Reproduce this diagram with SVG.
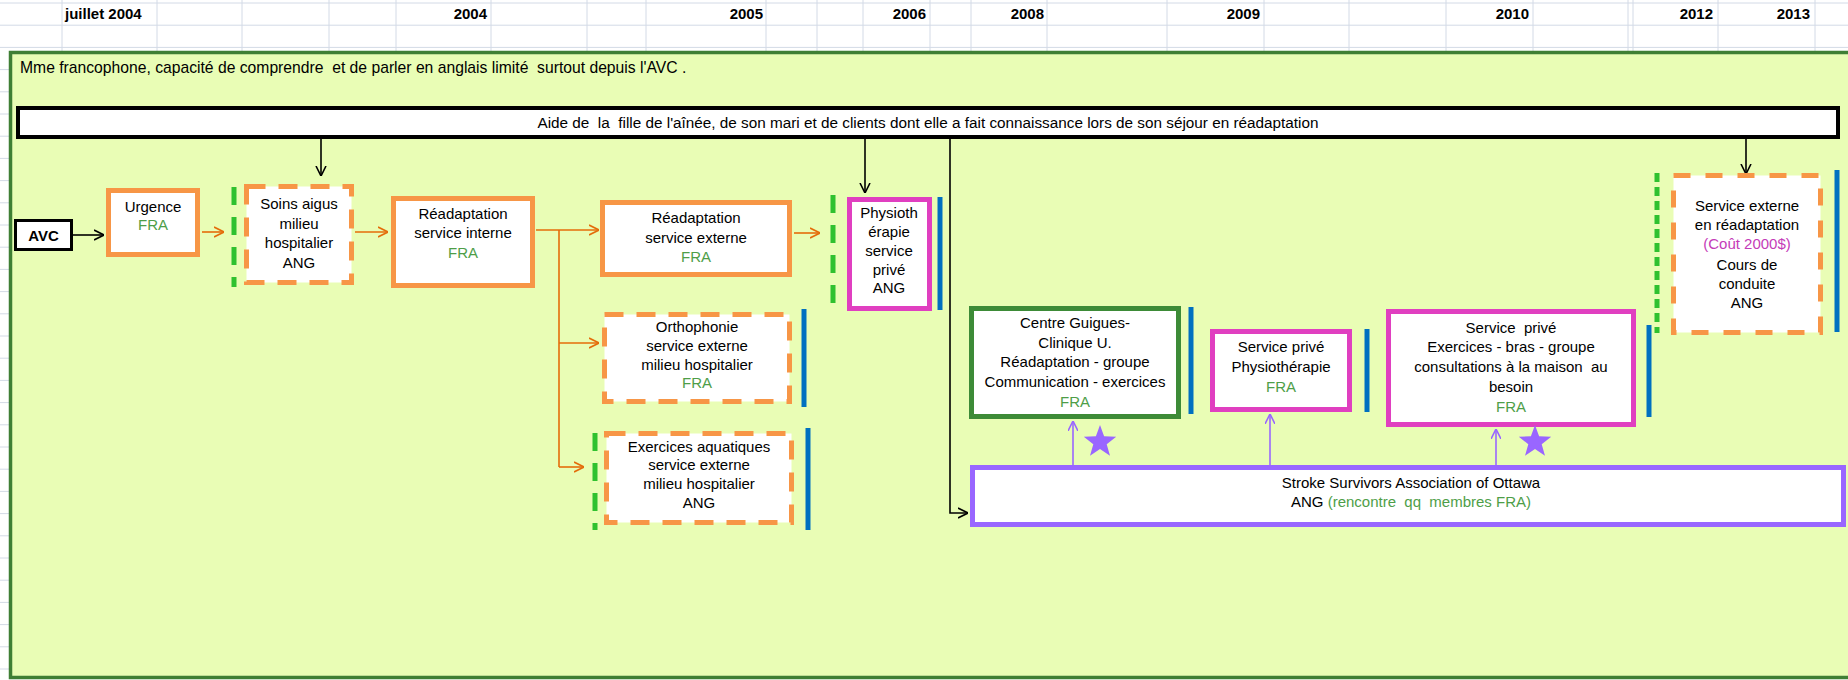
<svg xmlns="http://www.w3.org/2000/svg" width="1848" height="680" viewBox="0 0 1848 680">
<style>
.grid{stroke:#d3dae6;stroke-width:1;fill:none}
.hdr{font-family:'Liberation Sans',Arial,sans-serif;font-size:15px;font-weight:bold;fill:#000}
.t{font-family:'Liberation Sans',Arial,sans-serif;font-size:15px;fill:#000;text-anchor:middle;white-space:pre}
.tl{font-family:'Liberation Sans',Arial,sans-serif;font-size:15.7px;fill:#000;white-space:pre}
.big{font-size:15.3px}
.fra{fill:#4e9e48}
.cost{fill:#c43cb8}
.box{fill:#fff}
.or{stroke:#f79646;stroke-width:5}
.ord{stroke:#f79646;stroke-width:5;stroke-dasharray:19 13}
.mg{stroke:#e03fc0;stroke-width:5}
.gr{stroke:#3d8b37;stroke-width:5}
.pu{stroke:#9966ff;stroke-width:5}
.blk{stroke:#000;stroke-width:4}
.blue{stroke:#0070c0;stroke-width:5}
.gdash{stroke:#2fc12f;stroke-width:5;stroke-dasharray:18 12}
.ca{fill:none;stroke:#000;stroke-width:1.6}
.co{fill:none;stroke:#e46c0a;stroke-width:1.6}
.cp{fill:none;stroke:#9966ff;stroke-width:1.6}
</style>
<defs>
<marker id="ab" viewBox="0 0 10 10" refX="10" refY="5" markerWidth="10" markerHeight="12" markerUnits="userSpaceOnUse" orient="auto"><path d="M0,0 L10,5 L0,10" fill="none" stroke="#000" stroke-width="1.6"/></marker>
<marker id="ao" viewBox="0 0 10 10" refX="10" refY="5" markerWidth="10" markerHeight="12" markerUnits="userSpaceOnUse" orient="auto"><path d="M0,0 L10,5 L0,10" fill="none" stroke="#e46c0a" stroke-width="1.6"/></marker>
<marker id="ap" viewBox="0 0 10 10" refX="10" refY="5" markerWidth="10" markerHeight="10" markerUnits="userSpaceOnUse" orient="auto"><path d="M0,0 L10,5 L0,10" fill="none" stroke="#9966ff" stroke-width="1.6"/></marker>
<path id="star" d="M0,-17 L4.1,-5.7 L16.2,-5.3 L6.7,2.2 L10,13.8 L0,7 L-10,13.8 L-6.7,2.2 L-16.2,-5.3 L-4.1,-5.7 Z" fill="#9966ff"/>
</defs>

<rect x="0" y="0" width="1848" height="680" fill="#fff"/>
<g id="grid">
<path class="grid" d="M0,3H1848M0,25.2H1848M0,47.4H1848M0,69.6H10M0,91.8H10M0,114H10M0,136.2H10M0,158.4H10M0,180.6H10M0,202.8H10M0,225H10M0,247.2H10M0,269.4H10M0,291.6H10M0,313.8H10M0,336H10M0,358.2H10M0,380.4H10M0,402.6H10M0,424.8H10M0,447H10M0,469.2H10M0,491.4H10M0,513.6H10M0,535.8H10M0,558H10M0,580.2H10M0,602.4H10M0,624.6H10M0,646.8H10M0,669H10"/>
<path class="grid" d="M62,0V52M157,0V52M242,0V52M329,0V52M396,0V52M491,0V52M587,0V52M646,0V52M766,0V52M817,0V52M863,0V52M930,0V52M971,0V52M1047,0V52M1167,0V52M1264,0V52M1349,0V52M1446,0V52M1533,0V52M1628,0V52M1633,0V52M1718,0V52M1815,0V52"/>
<text class="hdr" x="65" y="19">juillet 2004</text>
<text class="hdr" x="487" y="19" text-anchor="end">2004</text>
<text class="hdr" x="763" y="19" text-anchor="end">2005</text>
<text class="hdr" x="926" y="19" text-anchor="end">2006</text>
<text class="hdr" x="1044" y="19" text-anchor="end">2008</text>
<text class="hdr" x="1260" y="19" text-anchor="end">2009</text>
<text class="hdr" x="1529" y="19" text-anchor="end">2010</text>
<text class="hdr" x="1713" y="19" text-anchor="end">2012</text>
<text class="hdr" x="1810" y="19" text-anchor="end">2013</text>
</g>

<g id="frame">
<rect x="10.5" y="52.5" width="1850" height="625" fill="#e9fdb5" stroke="#3f7f34" stroke-width="3.5"/>
<text class="tl" x="20" y="73">Mme francophone, capacité de comprendre  et de parler en anglais limité  surtout depuis l'AVC .</text>
</g>

<g id="aide">
<rect class="box blk" x="18" y="108" width="1820" height="29"/>
<text class="t big" x="928" y="128">Aide de  la  fille de l'aînée, de son mari et de clients dont elle a fait connaissance lors de son séjour en réadaptation</text>
</g>

<g id="connectors">
<path class="ca" d="M73,235 L104,235" marker-end="url(#ab)"/>
<path class="co" d="M202,232 L224,232" marker-end="url(#ao)"/>
<path class="co" d="M355,232 L388,232" marker-end="url(#ao)"/>
<path class="co" d="M536,230 L599,230" marker-end="url(#ao)"/>
<path class="co" d="M559,230 L559,467"/>
<path class="co" d="M559,343 L599,343" marker-end="url(#ao)"/>
<path class="co" d="M559,467 L584,467" marker-end="url(#ao)"/>
<path class="co" d="M794,233 L820,233" marker-end="url(#ao)"/>
<path class="ca" d="M321,139 L321,176" marker-end="url(#ab)"/>
<path class="ca" d="M865,139 L865,193" marker-end="url(#ab)"/>
<path class="ca" d="M950,139 L950,513 L968,513" marker-end="url(#ab)"/>
<path class="ca" d="M1746,139 L1746,174" marker-end="url(#ab)"/>
<path class="cp" d="M1073,465 L1073,421" marker-end="url(#ap)"/>
<path class="cp" d="M1270,465 L1270,414" marker-end="url(#ap)"/>
<path class="cp" d="M1496,465 L1496,429" marker-end="url(#ap)"/>
</g>

<g id="avc">
<rect class="box" x="15.5" y="220.5" width="56" height="29" stroke="#000" stroke-width="3"/>
<text class="t" x="43.5" y="240.5" font-weight="bold">AVC</text>
</g>

<g id="urgence">
<rect class="box or" x="108.5" y="190.5" width="89" height="64"/>
<text class="t" x="153" y="212">Urgence</text>
<text class="t fra" x="153" y="230">FRA</text>
</g>

<g id="soins">
<line class="gdash" x1="234" y1="187" x2="234" y2="287"/>
<rect class="box ord" x="246.5" y="186.5" width="105" height="96"/>
<text class="t" x="299" y="209">Soins aigus</text>
<text class="t" x="299" y="228.5">milieu</text>
<text class="t" x="299" y="248">hospitalier</text>
<text class="t" x="299" y="267.5">ANG</text>
</g>

<g id="readapt-interne">
<rect class="box or" x="393.5" y="198.5" width="139" height="87"/>
<text class="t" x="463" y="219">Réadaptation</text>
<text class="t" x="463" y="238">service interne</text>
<text class="t fra" x="463" y="258">FRA</text>
</g>

<g id="readapt-externe">
<rect class="box or" x="602.5" y="202.5" width="187" height="72"/>
<text class="t" x="696" y="223">Réadaptation</text>
<text class="t" x="696" y="243">service externe</text>
<text class="t fra" x="696" y="262">FRA</text>
</g>

<g id="physio-prive">
<line class="gdash" x1="833" y1="195" x2="833" y2="306"/>
<rect class="box mg" x="849.5" y="199.5" width="80" height="109"/>
<line class="blue" x1="940" y1="197" x2="940" y2="310"/>
<text class="t" x="889" y="218">Physioth</text>
<text class="t" x="889" y="237">érapie</text>
<text class="t" x="889" y="256">service</text>
<text class="t" x="889" y="275">privé</text>
<text class="t" x="889" y="293">ANG</text>
</g>

<g id="orthophonie">
<rect class="box ord" x="604.5" y="314.5" width="185" height="87"/>
<line class="blue" x1="804" y1="309" x2="804" y2="407"/>
<text class="t" x="697" y="332">Orthophonie</text>
<text class="t" x="697" y="351">service externe</text>
<text class="t" x="697" y="370">milieu hospitalier</text>
<text class="t fra" x="697" y="388">FRA</text>
</g>

<g id="exercices">
<line class="gdash" x1="595" y1="433" x2="595" y2="530"/>
<rect class="box ord" x="606.5" y="433.5" width="185" height="89"/>
<line class="blue" x1="808" y1="428" x2="808" y2="530"/>
<text class="t" x="699" y="452">Exercices aquatiques</text>
<text class="t" x="699" y="470">service externe</text>
<text class="t" x="699" y="489">milieu hospitalier</text>
<text class="t" x="699" y="508">ANG</text>
</g>

<g id="centre-guigues">
<rect class="box gr" x="971.5" y="308.5" width="207" height="108"/>
<line class="blue" x1="1191" y1="307" x2="1191" y2="414"/>
<text class="t" x="1075" y="328">Centre Guigues-</text>
<text class="t" x="1075" y="348">Clinique U.</text>
<text class="t" x="1075" y="367">Réadaptation - groupe</text>
<text class="t" x="1075" y="387">Communication - exercices</text>
<text class="t fra" x="1075" y="407">FRA</text>
</g>

<g id="service-prive-physio">
<rect class="box mg" x="1212.5" y="331.5" width="137" height="78"/>
<line class="blue" x1="1367" y1="329" x2="1367" y2="412"/>
<text class="t" x="1281" y="352">Service privé</text>
<text class="t" x="1281" y="372">Physiothérapie</text>
<text class="t fra" x="1281" y="392">FRA</text>
</g>

<g id="service-prive-exercices">
<rect class="box mg" x="1388.5" y="311.5" width="245" height="113"/>
<line class="blue" x1="1649" y1="325" x2="1649" y2="417"/>
<text class="t" x="1511" y="333">Service  privé</text>
<text class="t" x="1511" y="352">Exercices - bras - groupe</text>
<text class="t" x="1511" y="372">consultations à la maison  au</text>
<text class="t" x="1511" y="392">besoin</text>
<text class="t fra" x="1511" y="412">FRA</text>
</g>

<g id="service-externe">
<line class="gdash" x1="1657" y1="173" x2="1657" y2="333" style="stroke-dasharray:9 5"/>
<rect class="box ord" x="1673.5" y="175.5" width="147" height="157" style="stroke-dasharray:17 15"/>
<line class="blue" x1="1837" y1="170" x2="1837" y2="332"/>
<text class="t" x="1747" y="211">Service externe</text>
<text class="t" x="1747" y="230">en réadaptation</text>
<text class="t cost" x="1747" y="249">(Coût 2000$)</text>
<text class="t" x="1747" y="270">Cours de</text>
<text class="t" x="1747" y="289">conduite</text>
<text class="t" x="1747" y="308">ANG</text>
</g>

<g id="stroke-survivors">
<rect class="box pu" x="972.5" y="467.5" width="871" height="57"/>
<text class="t" x="1411" y="488">Stroke Survivors Association of Ottawa</text>
<text class="t" x="1411" y="507">ANG <tspan class="fra">(rencontre  qq  membres FRA)</tspan></text>
</g>

<g id="stars">
<use href="#star" x="1100" y="442"/>
<use href="#star" x="1535" y="442"/>
</g>
</svg>
